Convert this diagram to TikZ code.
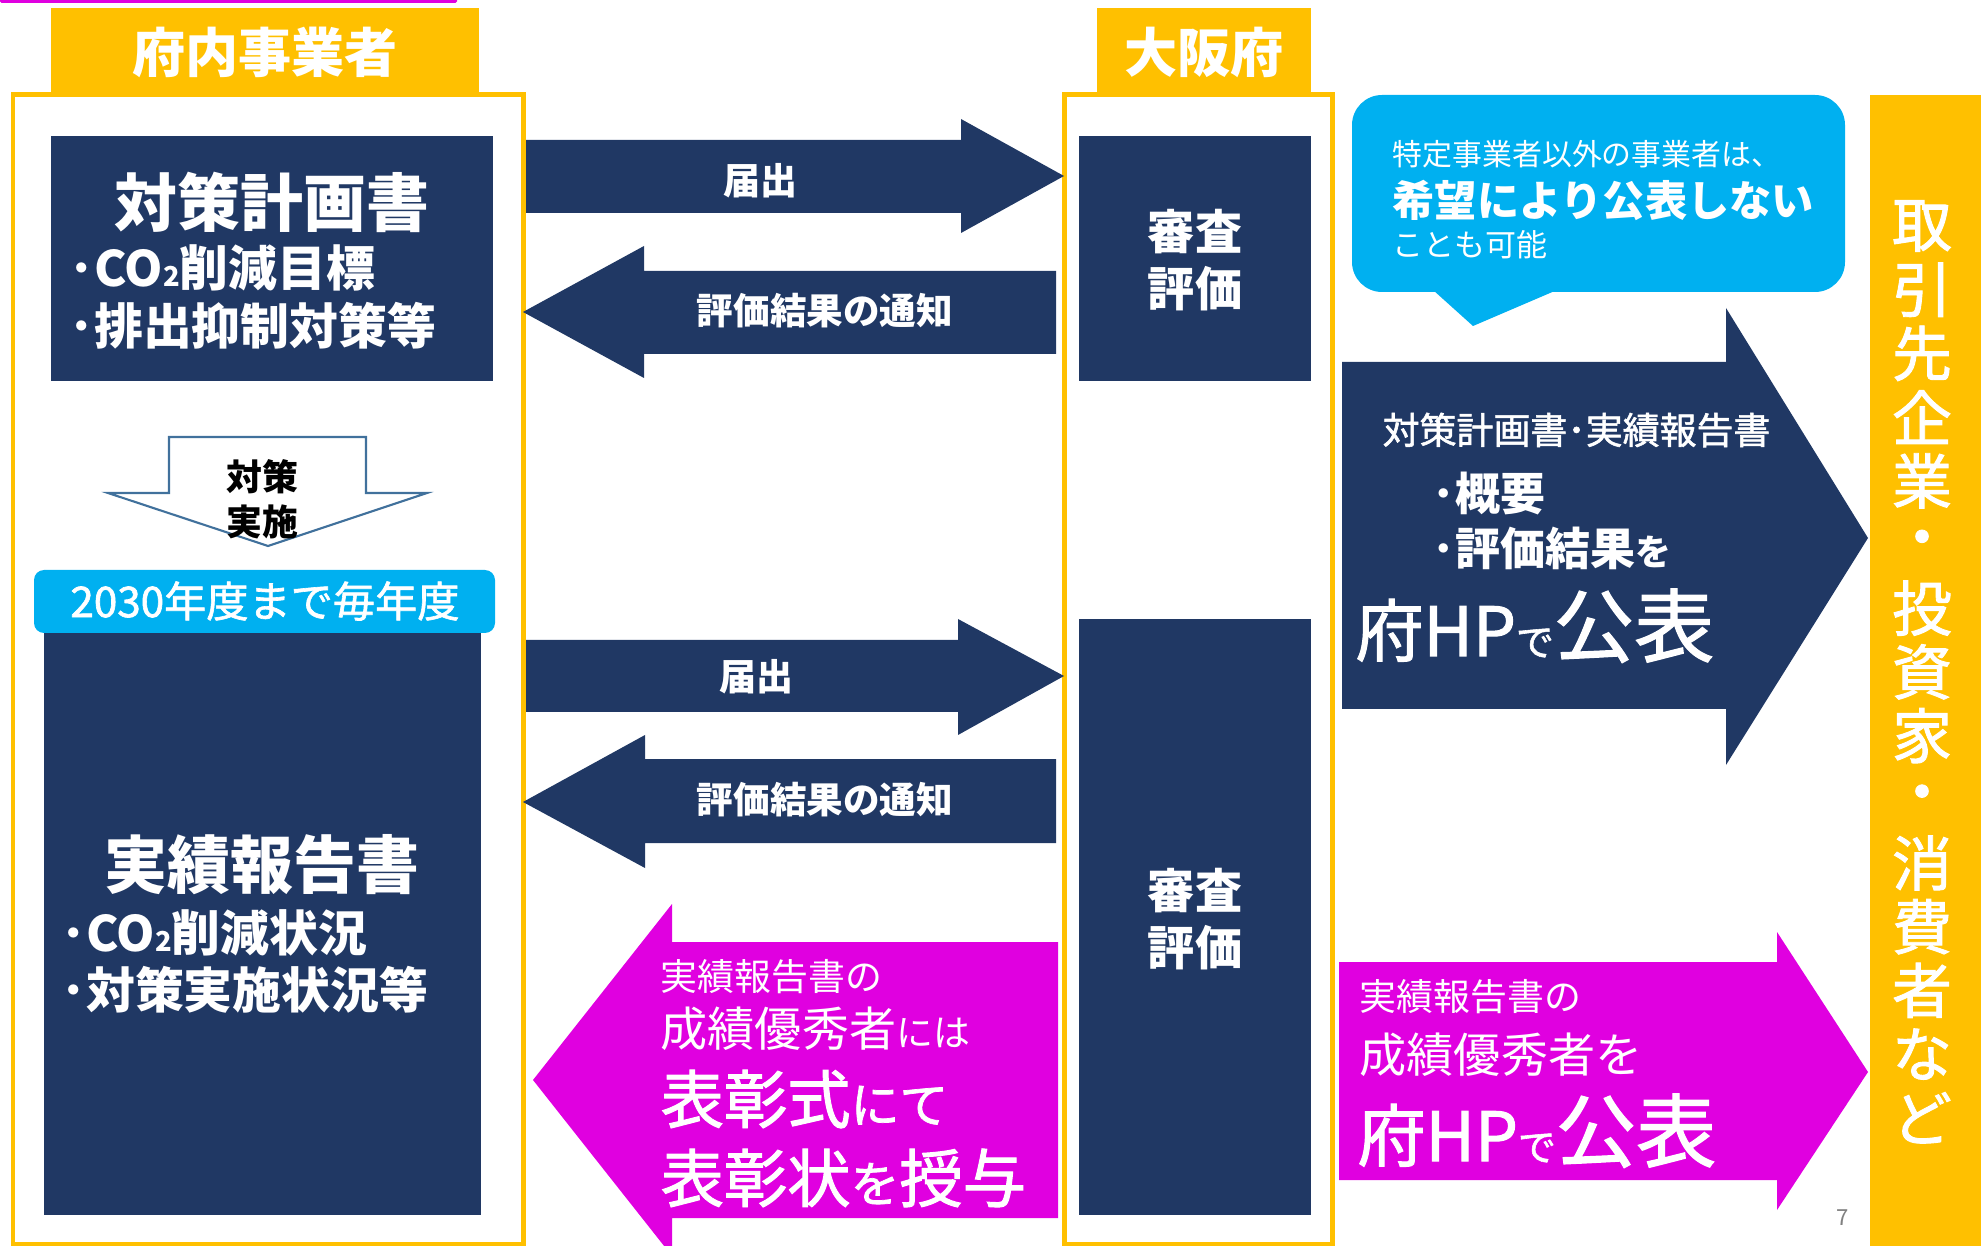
\documentclass[tikz,border=0pt]{standalone}
\usepackage{fontspec}
\setmainfont{Noto Sans CJK JP}
\newfontfamily\medium[FakeBold=1.5]{Noto Sans CJK JP}
\definecolor{navyfill}{HTML}{203864}
\definecolor{goldfill}{HTML}{FFC000}
\definecolor{skyfill}{HTML}{00B0F0}
\definecolor{pinkfill}{HTML}{E000E0}
\definecolor{edgeblue}{HTML}{41719C}
\newcommand\fsz[1]{\fontsize{#1pt}{#1pt}\selectfont}
\usetikzlibrary{positioning}

\begin{document}
\begin{tikzpicture}[x=0.01cm, y=-0.01cm,
    lbl/.style={text=white, inner sep=0pt},
    frame/.style={draw=goldfill, line width=1.42pt},
    navybox/.style={fill=navyfill}]
    \useasboundingbox (0,0) rectangle (1981,1246);
    \clip (0,0) rectangle (1981,1246);
    \fill[pinkfill, rounded corners=0.015cm] (0,-3) rectangle (457,3);
    % two frames with their headers
    \draw[frame] (13,95) rectangle (523,1244);
    \draw[frame] (1064,95) rectangle (1332,1244);
    \fill[goldfill] (51,8) rectangle (479,93);
    \node[lbl, font=\fsz{15.1}\bfseries] (hdrL) at (265,52) {府内事業者};
    \fill[goldfill] (1097,8) rectangle (1311,93);
    \node[lbl, font=\fsz{15.1}\bfseries] (hdrR) at (1204,52) {大阪府};

    % plan box
    \fill[navybox] (51,136) rectangle (493,381);
    \node[lbl, font=\fsz{17.9}\bfseries] (plan) at (272,202) {対策計画書};
    \node[lbl, anchor=west, font=\fsz{13.9}\bfseries] (planA) at (69,268) {･CO{\fsz{7.8}2}削減目標};
    \node[lbl, anchor=west, font=\fsz{13.9}\bfseries] (planB) at (69,326) {･排出抑制対策等};

    % hollow arrow
    \draw[edgeblue, fill=white, line width=0.6pt] (169,437) -- (366,437) -- (366,493) -- (427,493)
        -- (268,546) -- (108,493) -- (169,493) -- cycle;
    \node[inner sep=0pt, align=center, font=\fontsize{10.2pt}{12.8pt}\selectfont\bfseries] (act) at (262,499) {対策\\実施};

    % report box
    \fill[navybox] (44,633) rectangle (481,1215);
    \fill[skyfill, rounded corners=0.1cm] (34,570) rectangle (495,633);
    \node[lbl, font=\medium\fsz{12}] (every) at (265,601) {2030年度まで毎年度};
    \node[lbl, font=\fsz{17.9}\bfseries] (rep) at (262,865) {実績報告書};
    \node[lbl, anchor=west, font=\fsz{13.9}\bfseries] (repA) at (61,933) {･CO{\fsz{7.8}2}削減状況};
    \node[lbl, anchor=west, font=\fsz{13.9}\bfseries] (repB) at (61,990) {･対策実施状況等};

    % upper exchange
    \fill[navyfill] (526,140) -- (961,140) -- (961,119) -- (1064,176) -- (961,233) -- (961,213) -- (526,213) -- cycle;
    \node[lbl, font=\fsz{10.5}\bfseries] (sendA) at (760,181) {届出};
    \fill[navyfill] (523,312) -- (644,246) -- (644,271) -- (1056,271) -- (1056,354) -- (644,354) -- (644,378) -- cycle;
    \node[lbl, font=\fsz{10.4}\bfseries] (backA) at (825,311) {評価結果の通知};
    \fill[navybox] (1079,136) rectangle (1311,381);
    \node[lbl, align=center, font=\fontsize{13.4pt}{16.2pt}\selectfont\bfseries] (chkA) at (1195,260) {審査\\評価};

    % lower exchange
    \fill[navyfill] (526,640) -- (958,640) -- (958,619) -- (1064,676) -- (958,735) -- (958,712) -- (526,712) -- cycle;
    \node[lbl, font=\fsz{10.5}\bfseries] (sendB) at (756,677) {届出};
    \fill[navyfill] (523,802) -- (645,735) -- (645,759) -- (1056,759) -- (1056,843) -- (645,843) -- (645,868) -- cycle;
    \node[lbl, font=\fsz{10.4}\bfseries] (backB) at (825,800) {評価結果の通知};
    \fill[navybox] (1079,619) rectangle (1311,1215);
    \node[lbl, align=center, font=\fontsize{13.4pt}{16.2pt}\selectfont\bfseries] (chkB) at (1195,919) {審査\\評価};

    % award arrow
    \fill[pinkfill] (533,1080) -- (672,904) -- (672,942) -- (1058,942) -- (1058,1218) -- (672,1218) -- (672,1256) -- cycle;
    \node[lbl, anchor=west, font=\fsz{10.5}] (awdA) at (660,977) {実績報告書の};
    \node[lbl, anchor=base west, font=\fsz{13.4}] (awdB) at (660,1046) {成績優秀者{\fsz{10.5}には}};
    \node[lbl, anchor=base west, font=\medium\fsz{18}] (awdC) at (660,1123) {表彰式{\fsz{13.9}にて}};
    \node[lbl, anchor=base west, font=\medium\fsz{18}] (awdD) at (660,1202) {表彰状{\fsz{13.9}を}授与};

    % callout
    \fill[skyfill, rounded corners=0.3cm] (1352,95) rectangle (1845,292);
    \fill[skyfill] (1433,290) -- (1473,326) -- (1557,290) -- cycle;
    \node[lbl, anchor=west, font=\fsz{8.5}] (noteA) at (1392,154) {特定事業者以外の事業者は、};
    \node[lbl, anchor=west, font=\fsz{12}\bfseries] (noteB) at (1392,200) {希望により公表しない};
    \node[lbl, anchor=west, font=\fsz{8.8}] (noteC) at (1392,245) {ことも可能};

    % publish arrows
    \fill[navyfill] (1342,362) -- (1726,362) -- (1726,308) -- (1868,538) -- (1726,765) -- (1726,709) -- (1342,709) -- cycle;
    \node[lbl, anchor=west, font=\medium\fsz{10.5}] (pubA) at (1382,430) {対策計画書･実績報告書};
    \node[lbl, anchor=west, font=\fsz{12.8}\bfseries] (pubB) at (1432,494) {･概要};
    \node[lbl, anchor=base west, font=\fsz{12.8}\bfseries] (pubC) at (1432,566) {･評価結果{\fsz{10.2}を}};
    \node[lbl, anchor=base west, font=\medium\fsz{19.3}] (pubD) at (1355,656) {府HP{\fsz{10.8}で}{\fsz{22.8}公表}};

    \fill[pinkfill] (1339,962) -- (1777,962) -- (1777,932) -- (1868,1072) -- (1777,1210) -- (1777,1180) -- (1339,1180) -- cycle;
    \node[lbl, anchor=west, font=\fsz{10.5}] (bestA) at (1359,997) {実績報告書の};
    \node[lbl, anchor=west, font=\fsz{13.4}] (bestB) at (1359,1055) {成績優秀者を};
    \node[lbl, anchor=base west, font=\medium\fsz{19.3}] (bestC) at (1357,1161) {府HP{\fsz{10.8}で}{\fsz{22.8}公表}};

    % audience band
    \fill[goldfill] (1870,95) rectangle (1981,1246);
    \foreach \ch [count=\k from 0] in {取,引,先,企,業,・,投,資,家,・,消,費,者,な,ど}
        \node[lbl, font=\medium\fsz{17}] (side\k) at (1922,226+63.7*\k) {\ch};
    \node[text=gray, inner sep=0pt, font=\fsz{6.3}] (page) at (1843,1218) {7};
\end{tikzpicture}
\end{document}
